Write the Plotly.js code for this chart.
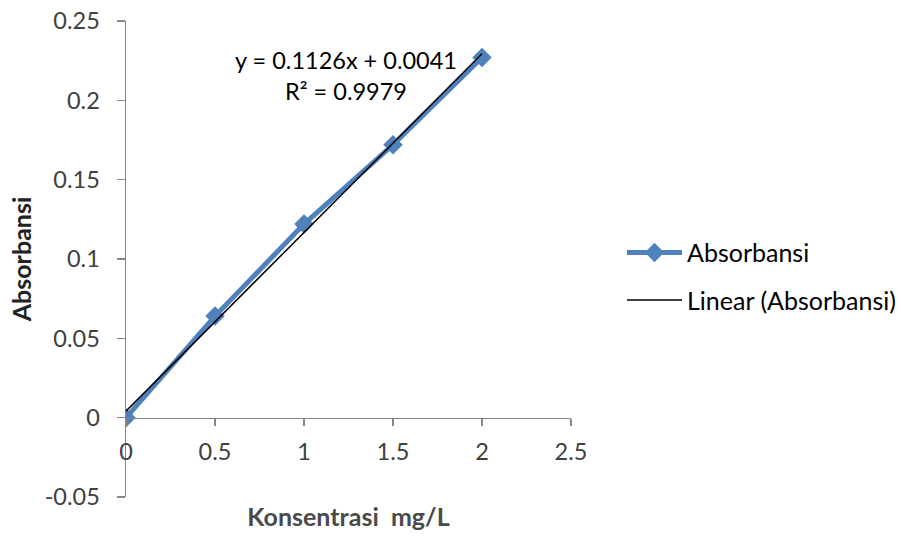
<!DOCTYPE html>
<html>
<head>
<meta charset="utf-8">
<script src="https://cdn.plot.ly/plotly-3.0.1.min.js"></script>
<style>html,body{margin:0;padding:0;background:#fff;}#chart{width:901px;height:540px;}</style>
</head>
<body>
<div id="chart"></div>
<script>
// Data
const concentration = [0, 0.5, 1, 1.5, 2];
const absorbance = [0, 0.064, 0.122, 0.172, 0.227];
// Linear trendline as stated on the chart
const trendSlope = 0.1126;
const trendIntercept = 0.0041;
const trendRSquared = 0.9979;
const trendX = [0, 2];
const xTicks = [0, 0.5, 1, 1.5, 2, 2.5];
const yTicks = [-0.05, 0, 0.05, 0.1, 0.15, 0.2, 0.25];

const trendY = trendX.map(x => trendSlope * x + trendIntercept);
const FONT = 'Lato, "Open Sans", sans-serif';

const traces = [
  {
    x: concentration, y: absorbance, name: 'Absorbansi', legendgroup: 'a',
    type: 'scatter', mode: 'lines+markers',
    line: {color: '#4F81BD', width: 5},
    marker: {symbol: 'diamond', size: 15, color: '#4F81BD'}
  },
  {
    x: trendX, y: trendY, name: 'Linear (Absorbansi)', legendgroup: 'b',
    type: 'scatter', mode: 'lines',
    line: {color: '#000000', width: 1.5}
  }
];

const layout = {
  width: 901, height: 540,
  margin: {l: 126, r: 330, t: 21, b: 43},
  paper_bgcolor: '#ffffff', plot_bgcolor: 'rgba(0,0,0,0)',
  font: {family: FONT, size: 23.5, color: '#404040'},
  showlegend: true,
  legend: {xref: 'container', x: 622/901, y: 0.464, xanchor: 'left', yanchor: 'middle', traceorder: 'grouped',
           font: {family: FONT, size: 25, color: '#000'}, tracegroupgap: 12, itemwidth: 55},
  xaxis: {
    range: [0, 2.5], tickvals: xTicks, ticktext: xTicks.map(String),
    showgrid: false, zeroline: false, showline: true, linecolor: '#868686', linewidth: 1.5,
    ticks: 'outside', ticklen: 7, tickcolor: '#868686', tickwidth: 1.5,
    anchor: 'free', position: 1/6, ticklabelstandoff: 6,
    tickfont: {family: FONT, size: 23.5, color: '#404040'},
    title: {text: 'Konsentrasi  mg/L', font: {family: FONT, size: 25, color: '#4a4a4a', weight: 'bold'}, standoff: 44},
    automargin: false
  },
  yaxis: {
    range: [-0.05, 0.25], tickvals: yTicks, ticktext: yTicks.map(String),
    showgrid: false, zeroline: false, showline: true, linecolor: '#868686', linewidth: 1.5,
    ticks: 'outside', ticklen: 8, tickcolor: '#868686', tickwidth: 1.5,
    ticklabelstandoff: 12,
    tickfont: {family: FONT, size: 23.5, color: '#404040'},
    title: {text: 'Absorbansi', font: {family: FONT, size: 25, color: '#222', weight: 'bold'}, standoff: 6},
    automargin: false
  },
  annotations: [{
    x: 1.235, y: 0.2155, xref: 'x', yref: 'y',
    text: 'y = ' + trendSlope + 'x + ' + trendIntercept + '<br>R² = ' + trendRSquared,
    showarrow: false, align: 'center',
    font: {family: FONT, size: 23.5, color: '#000'}
  }]
};

Plotly.newPlot('chart', traces, layout, {displayModeBar: false, staticPlot: true});
</script>
</body>
</html>
